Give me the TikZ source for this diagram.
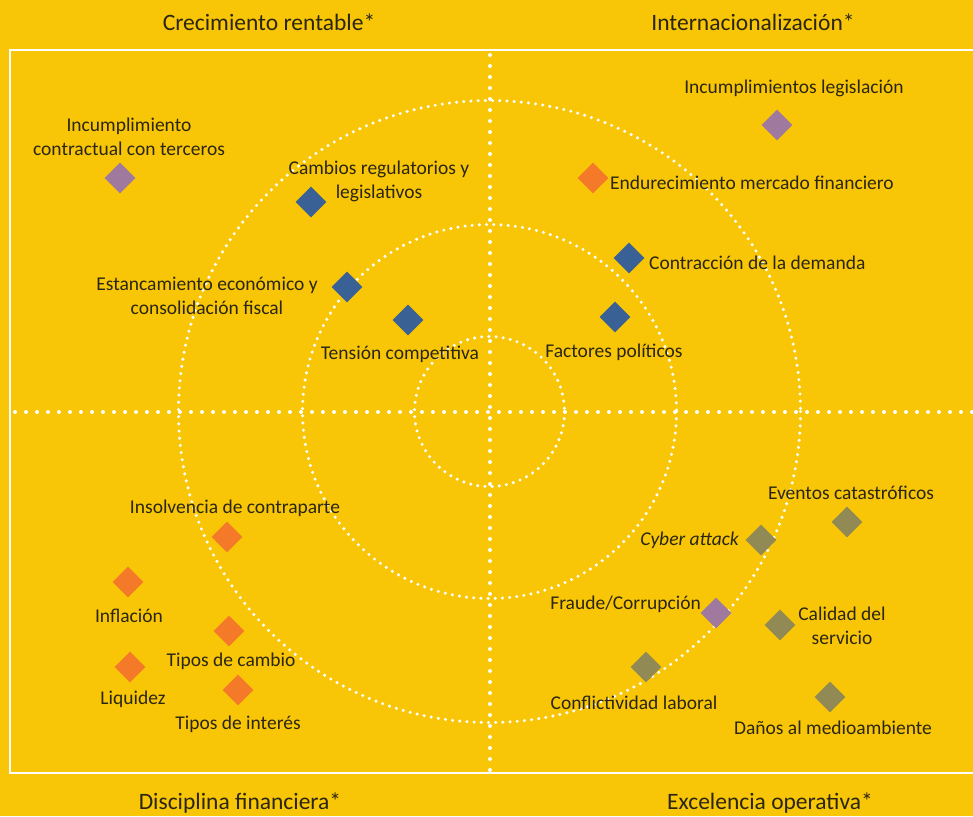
\documentclass[tikz,border=0pt]{standalone}
\usepackage{fontspec}
\setmainfont{Carlito}
\usetikzlibrary{shapes.geometric}
\definecolor{bg}{HTML}{F8C606}
\definecolor{ink}{HTML}{2B2614}
\definecolor{rpurple}{HTML}{A07A9E}
\definecolor{rblue}{HTML}{3A6195}
\definecolor{rorange}{HTML}{F47A2A}
\definecolor{rolive}{HTML}{918A55}
\tikzset{
  risk/.style={diamond, aspect=1, inner sep=0pt, minimum size=31pt, draw=none},
  purplerisk/.style={risk, fill=rpurple},
  bluerisk/.style={risk, fill=rblue},
  orangerisk/.style={risk, fill=rorange},
  oliverisk/.style={risk, fill=rolive},
  lbl/.style={text=ink, inner sep=0pt, yshift=-1.5pt, font=\fontsize{19.5}{24}\selectfont, align=center},
  ttl/.style={text=ink, inner sep=0pt, yshift=-1pt, font=\fontsize{23.5}{26}\selectfont},
  dotline/.style={white, line width=4pt, line cap=round, dash pattern=on 0pt off 11pt},
  dotring/.style={white, line width=3.4pt, line cap=round, dash pattern=on 0pt off 7.2pt},
}
\begin{document}
\begin{tikzpicture}[x=1pt, y=-1pt]
  % background
  \fill[bg] (0,0) rectangle (973,816);
  \useasboundingbox (0,0) rectangle (973,816);
  % frame
  \draw[white, line width=2.4pt] (980,50) -- (10,50) -- (10,773) -- (980,773);
  % axes
  \draw[dotline] (15,412) -- (973,412);
  \draw[dotline] (490,55) -- (490,773);
  % rings
  \coordinate (c) at (489.5,411.5);
  \draw[dotring] (c) circle[radius=75];
  \draw[dotring] (c) circle[radius=187];
  \draw[dotring] (c) circle[radius=311];

  % quadrant titles
  \node[ttl] (t1) at (269,21) {Crecimiento rentable*};
  \node[ttl] (t2) at (753,21) {Internacionalización*};
  \node[ttl] (t3) at (240,802) {Disciplina financiera*};
  \node[ttl] (t4) at (770,802) {Excelencia operativa*};

  % risks, upper left
  \node[purplerisk] (r1) at (120,178) {};
  \node[lbl] (l1) at (129,135) {Incumplimiento\\contractual con terceros};
  \node[bluerisk] (r2) at (311,202) {};
  \node[lbl] (l2) at (379,180) {Cambios regulatorios y\\legislativos};
  \node[bluerisk] (r3) at (347,287) {};
  \node[lbl] (l3) at (207,294) {Estancamiento económico y\\consolidación fiscal};
  \node[bluerisk] (r4) at (408,320) {};
  \node[lbl] (l4) at (400,353) {Tensión competitiva};

  % risks, upper right
  \node[purplerisk] (r5) at (777,125) {};
  \node[lbl] (l5) at (794,87) {Incumplimientos legislación};
  \node[orangerisk] (r6) at (593,178) {};
  \node[lbl, anchor=west] (l6) at (610,181) {Endurecimiento mercado financiero};
  \node[bluerisk] (r7) at (629,258) {};
  \node[lbl, anchor=west] (l7) at (649,261) {Contracción de la demanda};
  \node[bluerisk] (r8) at (615,317) {};
  \node[lbl] (l8) at (614,351) {Factores políticos};

  % risks, lower left
  \node[orangerisk] (r9) at (227,537) {};
  \node[lbl] (l9) at (235,507) {Insolvencia de contraparte};
  \node[orangerisk] (r10) at (128,582) {};
  \node[lbl] (l10) at (129,614) {Inflación};
  \node[orangerisk] (r11) at (229,631) {};
  \node[lbl] (l11) at (231,660) {Tipos de cambio};
  \node[orangerisk] (r12) at (130,667) {};
  \node[lbl] (l12) at (133,698) {Liquidez};
  \node[orangerisk] (r13) at (238,690) {};
  \node[lbl] (l13) at (238,723) {Tipos de interés};

  % risks, lower right
  \node[oliverisk] (r14) at (847,522) {};
  \node[lbl] (l14) at (851,491) {Eventos catastróficos};
  \node[oliverisk] (r15) at (761,540) {};
  \node[lbl, anchor=east, font=\fontsize{19.5}{24}\selectfont\itshape] (l15) at (739,539) {Cyber attack};
  \node[purplerisk] (r16) at (716,613) {};
  \node[lbl, anchor=east] (l16) at (701,603) {Fraude/Corrupción};
  \node[oliverisk] (r17) at (780,625) {};
  \node[lbl] (l17) at (842,624) {Calidad del\\servicio};
  \node[oliverisk] (r18) at (646,667) {};
  \node[lbl] (l18) at (634,701) {Conflictividad laboral};
  \node[oliverisk] (r19) at (830,697) {};
  \node[lbl] (l19) at (833,726) {Daños al medioambiente};
\end{tikzpicture}
\end{document}
